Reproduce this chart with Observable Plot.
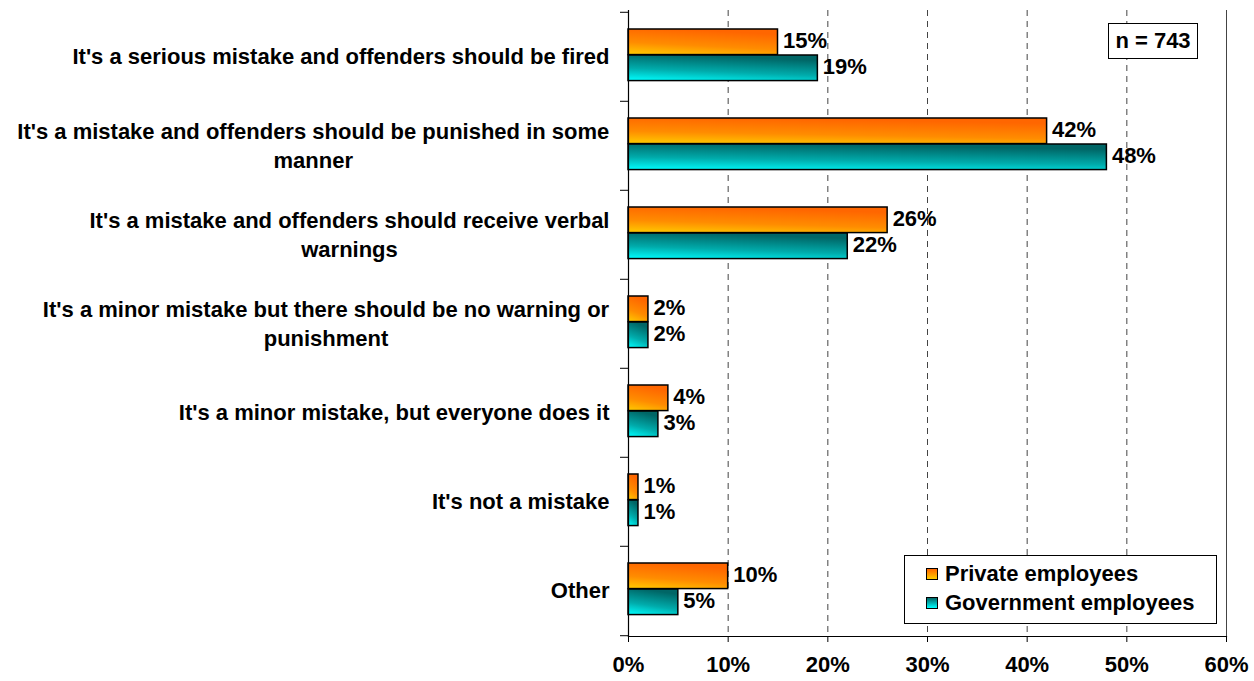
<!DOCTYPE html>
<html>
<head>
<meta charset="utf-8">
<script src="https://cdn.jsdelivr.net/npm/d3@7"></script>
<script src="https://cdn.jsdelivr.net/npm/@observablehq/plot@0.6"></script>
<style>
  body { margin: 0; background: #fff; }
  #wrap { position: relative; width: 1254px; height: 681px; font-family: "Liberation Sans", Arial, sans-serif; font-weight: bold; }
  .box { position: absolute; background: #fff; border: 1.5px solid #000; box-sizing: border-box; }
  #legend { left: 904px; top: 555px; width: 313px; height: 69px; font-size: 22px; }
  .item { position: absolute; left: 21px; display: flex; align-items: center; line-height: 24px; }
  .sw { width: 12px; height: 12px; border: 1px solid #000; margin-right: 7px; box-sizing: border-box; }
  #nbox { left: 1108px; top: 23px; width: 90px; height: 36px; font-size: 22px; display: flex; align-items: center; justify-content: center; }
</style>
</head>
<body>
<svg width="0" height="0" style="position:absolute">
  <defs>
    <linearGradient id="gOrange" x1="0" y1="1" x2="0.3" y2="0">
      <stop offset="0%" stop-color="#ffcc00"/>
      <stop offset="45%" stop-color="#ff8c00"/>
      <stop offset="100%" stop-color="#ff6600"/>
    </linearGradient>
    <linearGradient id="gTeal" x1="0" y1="1" x2="0.3" y2="0">
      <stop offset="0%" stop-color="#00ffff"/>
      <stop offset="45%" stop-color="#00abab"/>
      <stop offset="100%" stop-color="#006666"/>
    </linearGradient>
  </defs>
</svg>
<div id="wrap">
  <div id="legend" class="box">
    <div class="item" style="top:6px"><div class="sw" style="background:linear-gradient(#ff6600,#ffcc00)"></div>Private employees</div>
    <div class="item" style="top:35px"><div class="sw" style="background:linear-gradient(#006666,#00ffff)"></div>Government employees</div>
  </div>
  <div id="nbox" class="box">n = 743</div>
</div>
<script>
const categories = [
  "It's a serious mistake and offenders should be fired",
  "It's a mistake and offenders should be punished in some manner",
  "It's a mistake and offenders should receive verbal warnings",
  "It's a minor mistake but there should be no warning or punishment",
  "It's a minor mistake, but everyone does it",
  "It's not a mistake",
  "Other"
];
const categoryLabels = [
  "It's a serious mistake and offenders should be fired",
  "It's a mistake and offenders should be punished in some\nmanner",
  "It's a mistake and offenders should receive verbal\nwarnings",
  "It's a minor mistake but there should be no warning or\npunishment",
  "It's a minor mistake, but everyone does it",
  "It's not a mistake",
  "Other"
];
const privateValues = [15, 42, 26, 2, 4, 1, 10];
const governmentValues = [19, 48, 22, 2, 3, 1, 5];
const xTicks = [0, 10, 20, 30, 40, 50, 60];

const privData = categories.map((c, i) => ({cat: c, value: privateValues[i]}));
const govData = categories.map((c, i) => ({cat: c, value: governmentValues[i]}));
const labelOf = new Map(categories.map((c, i) => [c, categoryLabels[i]]));

const W = 1254, H = 681, mT = 10, mB = 45, mL = 628, mR = 28;
const bw = (H - mT - mB) / categories.length;

const chart = Plot.plot({
  width: W, height: H,
  marginLeft: mL, marginRight: mR, marginTop: mT, marginBottom: mB,
  style: {fontFamily: "'Liberation Sans', Arial, sans-serif", fontWeight: "bold", fontSize: "22px", color: "#000", background: "transparent"},
  x: {domain: [0, 60]},
  y: {domain: categories, padding: 0},
  marks: [
    Plot.ruleX(xTicks.filter(d => d > 0 && d < 60), {stroke: "#444", strokeDasharray: "6,5", strokeWidth: 1}),
    Plot.ruleX([60], {stroke: "#444", strokeWidth: 1}),
    Plot.barX(privData, {x: "value", y: "cat", insetTop: 17, insetBottom: bw - 43, fill: "url(#gOrange)", stroke: "#000", strokeWidth: 1.5}),
    Plot.barX(govData, {x: "value", y: "cat", insetTop: 43, insetBottom: bw - 69, fill: "url(#gTeal)", stroke: "#000", strokeWidth: 1.5}),
    Plot.text(privData, {x: "value", y: "cat", text: d => d.value + "%", dx: 5, dy: -16, textAnchor: "start", fontSize: 22, fontWeight: "bold"}),
    Plot.text(govData, {x: "value", y: "cat", text: d => d.value + "%", dx: 5, dy: 10, textAnchor: "start", fontSize: 22, fontWeight: "bold"}),
    Plot.frame({anchor: "left", stroke: "#000", strokeWidth: 1.2}),
    Plot.frame({anchor: "bottom", stroke: "#000", strokeWidth: 1.2}),
    Plot.axisX(xTicks, {tickFormat: d => d + "%", tickSize: 6, tickPadding: 14, fontSize: 22, fontWeight: "bold", label: null}),
    Plot.axisY({tickSize: 0, tickPadding: 19, dy: -2, tickFormat: d => labelOf.get(d), fontSize: 22, fontWeight: "bold", label: null, lineHeight: 1.32}),
    Plot.axisY({tickSize: 8, tickFormat: () => "", dy: -bw / 2, label: null}),
    Plot.axisY([categories[categories.length - 1]], {tickSize: 8, tickFormat: () => "", dy: bw / 2, label: null})
  ]
});
chart.style.position = "absolute";
chart.style.left = "0";
chart.style.top = "0";
const wrap = document.getElementById("wrap");
wrap.insertBefore(chart, wrap.firstChild);

// center the wrapped lines of multi-line category labels, like the original
chart.querySelectorAll('g[aria-label="y-axis tick label"] text').forEach(t => {
  const spans = t.querySelectorAll("tspan");
  if (spans.length < 2) return;
  const w = t.getBBox().width;
  t.setAttribute("text-anchor", "middle");
  spans.forEach(s => s.setAttribute("x", (+s.getAttribute("x") || 0) - w / 2));
});
</script>
</body>
</html>
